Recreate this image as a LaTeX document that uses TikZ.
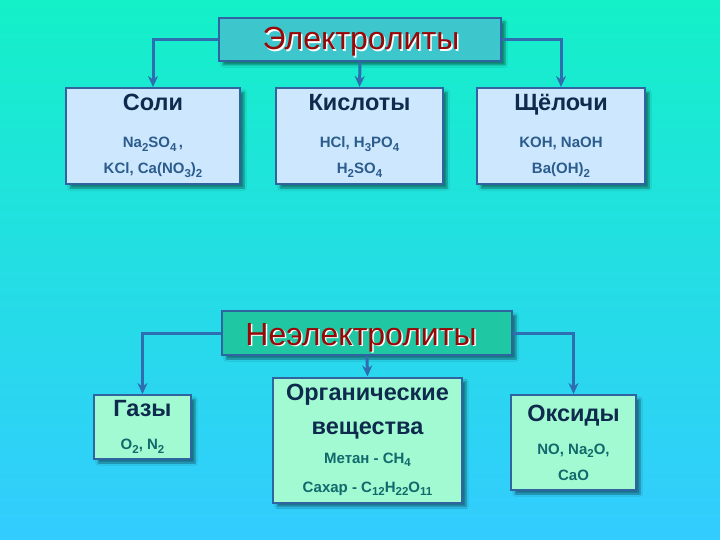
\documentclass[tikz,border=0pt]{standalone}
\usepackage{fontspec}
\setmainfont{Liberation Sans}
\usepackage{xcolor}
\definecolor{bgtop}{HTML}{14F0C8}
\definecolor{bgbot}{HTML}{33CCFF}
\definecolor{frameblue}{HTML}{2F64A0}
\definecolor{linkblue}{HTML}{2E6DB0}
\definecolor{elecfill}{HTML}{3DC6CC}
\definecolor{neelfill}{HTML}{1FC8A2}
\definecolor{bluecard}{HTML}{CDE8FE}
\definecolor{greencard}{HTML}{A2FAD2}
\definecolor{darkred}{HTML}{990808}
\definecolor{headnavy}{HTML}{0E2A4C}
\definecolor{formblue}{HTML}{2C5C8C}
\definecolor{formteal}{HTML}{11696C}
\usepackage{tikz}
\usetikzlibrary{arrows.meta}
\usetikzlibrary{shadows.blur}

\newcommand{\headfont}{\bfseries\fontsize{23.5}{26}\selectfont\color{headnavy}}
\newcommand{\chsub}[1]{\raisebox{-0.45ex}{\fontsize{11.5}{12}\selectfont #1}}

\begin{document}
\begin{tikzpicture}[x=1pt, y=-1pt,
        card/.style={draw=frameblue, line width=2pt, align=center, inner sep=0pt,
            blur shadow={shadow xshift=4pt, shadow yshift=-4pt, shadow opacity=45, shadow blur steps=6}},
        topcard/.style={card, fill=bluecard, text=formblue, font=\bfseries\fontsize{15}{26}\selectfont},
        lowcard/.style={card, fill=greencard, text=formteal, font=\bfseries\fontsize{15}{26}\selectfont},
        titletext/.style={font=\fontsize{32}{36}\selectfont, inner sep=0pt, anchor=base},
        link/.style={draw=linkblue, line width=3pt, -{Stealth[length=11pt, width=10pt]}}]

            \shade[top color=bgtop, bottom color=bgbot] (0,0) rectangle (720,540);
            \useasboundingbox (0,0) rectangle (720,540);

            \node[card, fill=elecfill, minimum width=282pt, minimum height=43pt] (elec) at (360,39.5) {};
            \node[titletext, white] (elecshade) at (362.5,51.5) {Электролиты};
            \node[titletext, darkred] (electext) at (361,50) {Электролиты};

            \node[topcard, minimum width=174pt, minimum height=96pt] (soli) at (153,136)
                {{\headfont Соли}\\[11pt] Na\chsub{2}SO\chsub{4}\,,\\ KCl, Ca(NO\chsub{3})\chsub{2}};
            \node[topcard, minimum width=167pt, minimum height=96pt] (kisl) at (359.5,136)
                {{\headfont Кислоты}\\[11pt] HCl, H\chsub{3}PO\chsub{4}\\ H\chsub{2}SO\chsub{4}};
            \node[topcard, minimum width=168pt, minimum height=96pt] (shch) at (561,136)
                {{\headfont Щёлочи}\\[11pt] KOH, NaOH\\ Ba(OH)\chsub{2}};

            \draw[link] (elec.west) -| (soli.north);
            \draw[link] (elec.south) -- (kisl.north);
            \draw[link] (elec.east) -| (shch.north);

            \node[card, fill=neelfill, minimum width=290pt, minimum height=44pt] (neel) at (367,333) {};
            \node[titletext, white] (neelshade) at (362.5,346.5) {Неэлектролиты};
            \node[titletext, darkred] (neeltext) at (361,345) {Неэлектролиты};

            \node[lowcard, minimum width=97pt, minimum height=64pt] (gazy) at (142.5,427)
                {{\headfont Газы}\\[7pt] O\chsub{2}, N\chsub{2}};
            \node[lowcard, minimum width=189pt, minimum height=125pt, font=\bfseries\fontsize{15}{29}\selectfont] (org) at (367.5,440)
                {{\headfont Органические}\\[5pt] {\headfont вещества}\\ Метан - CH\chsub{4}\\ Сахар - C\chsub{12}H\chsub{22}O\chsub{11}};
            \node[lowcard, minimum width=125pt, minimum height=95pt] (oks) at (573.5,442.5)
                {{\headfont Оксиды}\\[7pt] NO, Na\chsub{2}O,\\ CaO};

            \draw[link] (neel.west) -| (gazy.north);
            \draw[link] (neel.south) -- (org.north);
            \draw[link] (neel.east) -| (oks.north);
        \end{tikzpicture}
\end{document}
